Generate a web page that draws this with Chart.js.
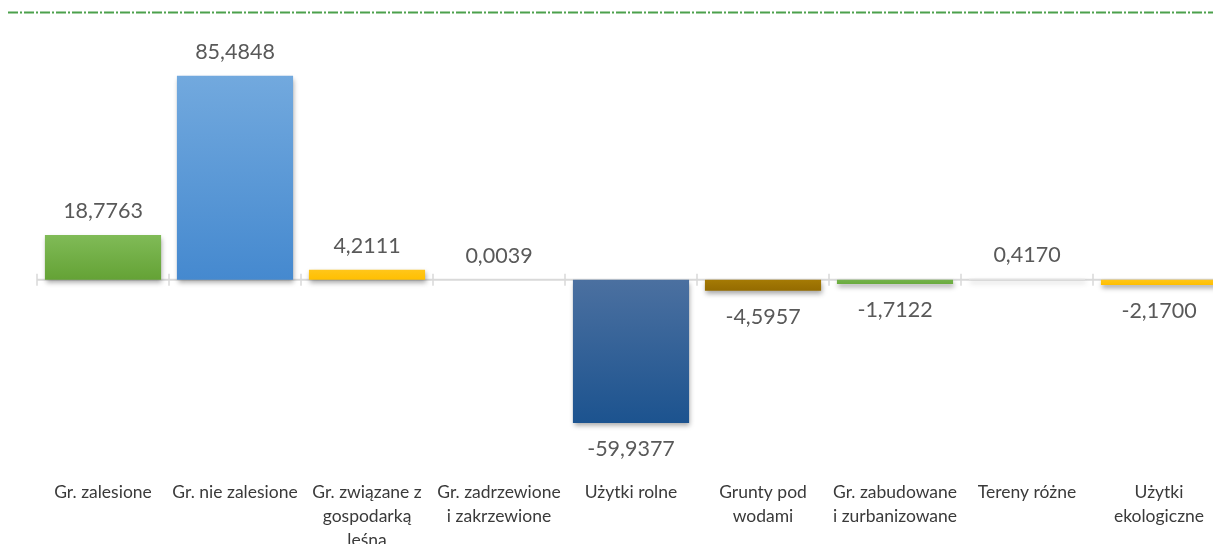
<!DOCTYPE html>
<html>
<head>
<meta charset="utf-8">
<script src="https://cdn.jsdelivr.net/npm/chart.js@4.4.1/dist/chart.umd.min.js"></script>
<style>
html,body{margin:0;padding:0;background:#fff;overflow:hidden;}
#wrap{position:relative;width:1240px;height:544px;}
</style>
</head>
<body>
<div id="wrap"><canvas id="c"></canvas></div>
<script>
const categories = [
  "Gr. zalesione",
  "Gr. nie zalesione",
  ["Gr. związane z", "gospodarką", "leśna"],
  ["Gr. zadrzewione", "i zakrzewione"],
  "Użytki rolne",
  ["Grunty pod", "wodami"],
  ["Gr. zabudowane", "i zurbanizowane"],
  "Tereny różne",
  ["Użytki", "ekologiczne"]
];
const values = [18.7763, 85.4848, 4.2111, 0.0039, -59.9377, -4.5957, -1.7122, 0.4170, -2.1700];
const barTop = ["#80bb57", "#72a9de", "#ffc61a", "#e6e6e6", "#4b70a0", "#a57a05", "#74b24b", "#e6e6e6", "#ffc61a"];
const barBottom = ["#64a235", "#4589cf", "#ffbf00", "#e6e6e6", "#1c538f", "#946b00", "#6aab3e", "#e6e6e6", "#ffbf00"];

function fmt(v){ return v.toFixed(4).replace('.', ','); }

function barColor(ctx){
  const chart = ctx.chart;
  const i = ctx.dataIndex;
  if (!chart.chartArea || !chart.scales.y) return barBottom[i];
  const y = chart.scales.y;
  const y0 = y.getPixelForValue(0);
  const y1 = y.getPixelForValue(values[i]);
  if (Math.abs(y1 - y0) < 1) return barBottom[i];
  const g = chart.ctx.createLinearGradient(0, Math.min(y0, y1), 0, Math.max(y0, y1));
  g.addColorStop(0, barTop[i]);
  g.addColorStop(1, barBottom[i]);
  return g;
}

const decor = {
  id: 'decor',
  beforeDatasetsDraw(chart){
    const {ctx, chartArea, scales} = chart;
    const x = scales.x, y = scales.y;
    const y0 = y.getPixelForValue(0);
    ctx.save();
    // top dashed line
    ctx.strokeStyle = 'rgba(45,145,45,0.85)';
    ctx.lineWidth = 2;
    ctx.setLineDash([10, 2, 2, 2]);
    ctx.beginPath();
    ctx.moveTo(8, 12.5);
    ctx.lineTo(chart.width, 12.5);
    ctx.stroke();
    ctx.setLineDash([]);
    // zero line
    ctx.strokeStyle = '#d9d9d9';
    ctx.lineWidth = 2;
    ctx.beginPath();
    ctx.moveTo(chartArea.left, y0);
    ctx.lineTo(chartArea.right, y0);
    ctx.stroke();
    // boundary tick marks
    const step = x.getPixelForValue(1) - x.getPixelForValue(0);
    ctx.lineWidth = 1.5;
    for (let i = 0; i <= categories.length; i++) {
      const px = x.getPixelForValue(i) - step / 2;
      ctx.beginPath();
      ctx.moveTo(px, y0 - 6);
      ctx.lineTo(px, y0 + 6);
      ctx.stroke();
    }
    ctx.restore();
    ctx.save();
    ctx.shadowColor = 'rgba(0,0,0,0.35)';
    ctx.shadowBlur = 5;
    ctx.shadowOffsetX = 1;
    ctx.shadowOffsetY = 3;
  },
  afterDatasetsDraw(chart){
    const {ctx} = chart;
    ctx.restore();
    ctx.save();
    ctx.fillStyle = '#595959';
    ctx.font = '21.5px Lato';
    ctx.textAlign = 'center';
    ctx.textBaseline = 'middle';
    const meta = chart.getDatasetMeta(0);
    meta.data.forEach((bar, i) => {
      const v = values[i];
      const ty = v >= 0 ? bar.y - 24 : bar.y + 26;
      ctx.fillText(fmt(v), bar.x, ty);
    });
    ctx.restore();
  }
};

new Chart(document.getElementById('c'), {
  type: 'bar',
  data: {
    labels: categories,
    datasets: [{
      data: values,
      backgroundColor: barColor,
      borderWidth: 0,
      categoryPercentage: 1,
      barPercentage: 0.88
    }]
  },
  options: {
    responsive: true,
    maintainAspectRatio: false,
    animation: false,
    layout: { padding: { left: 37, right: 15, top: 41, bottom: 0 } },
    plugins: { legend: { display: false }, tooltip: { enabled: false } },
    scales: {
      x: {
        grid: { display: false, drawTicks: false },
        border: { display: false },
        afterFit(scale){ scale.height = 97; },
        ticks: {
          color: '#3a3a3a',
          font: { family: 'Lato', size: 17.5, lineHeight: 1.37 },
          padding: 33,
          maxRotation: 0,
          autoSkip: false
        }
      },
      y: {
        display: false,
        min: -70,
        max: 100
      }
    }
  },
  plugins: [decor]
});
</script>
</body>
</html>
